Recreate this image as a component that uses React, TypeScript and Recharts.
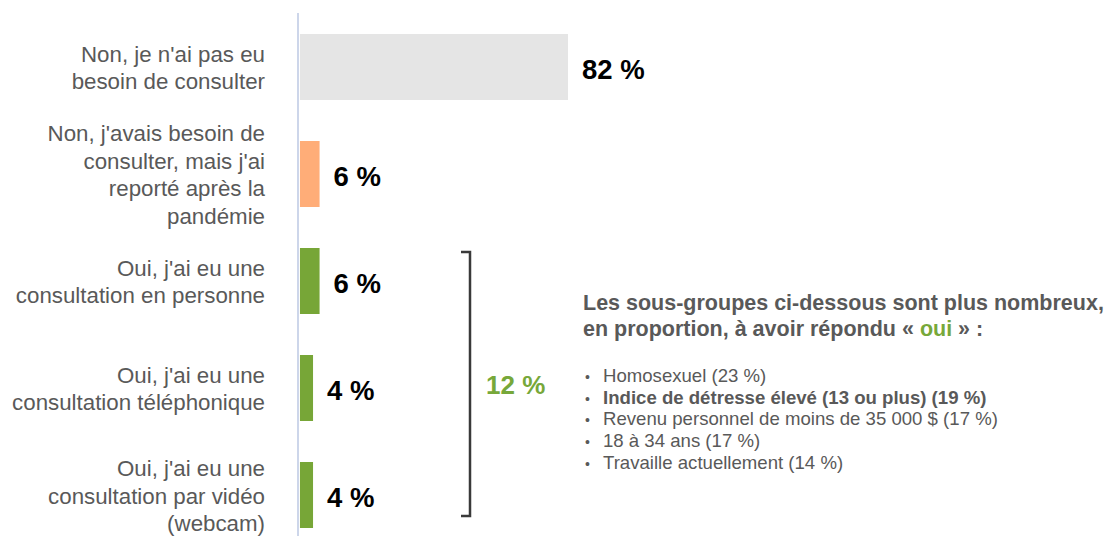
import { BarChart, Bar, XAxis, YAxis, Cell, LabelList } from 'recharts'

const CATEGORIES = [
  "Non, je n'ai pas eu\nbesoin de consulter",
  "Non, j'avais besoin de\nconsulter, mais j'ai\nreporté après la\npandémie",
  "Oui, j'ai eu une\nconsultation en personne",
  "Oui, j'ai eu une\nconsultation téléphonique",
  "Oui, j'ai eu une\nconsultation par vidéo\n(webcam)",
]
const VALUES = [82, 6, 6, 4, 4]
const GROUPS = ['non', 'reporte', 'oui', 'oui', 'oui']

const OUI_TOTAL = 12

const SUBGROUPS = [
  'Homosexuel',
  'Indice de détresse élevé (13 ou plus)',
  'Revenu personnel de moins de 35 000 $',
  '18 à 34 ans',
  'Travaille actuellement',
]
const SUBGROUP_VALUES = [23, 19, 17, 17, 14]
const SUBGROUP_BOLD = [false, true, false, false, false]

const COLORS: Record<string, string> = {
  non: '#e5e5e5',
  reporte: '#ffad78',
  oui: '#77a637',
}

const FONT = '"Liberation Sans", Arial, sans-serif'
const GRAY = '#595959'
const GREEN = '#77a83a'

const data = CATEGORIES.map((name, i) => ({ name, value: VALUES[i], group: GROUPS[i] }))

function CategoryTick(props: any) {
  const { y, payload } = props
  const lines = String(payload.value).split('\n')
  const lh = 27.5
  const first = y - ((lines.length - 1) * lh) / 2 + 9
  return (
    <text x={265} y={first} textAnchor="end" fill={GRAY} fontSize={22.3} fontFamily={FONT}>
      {lines.map((l, i) => (
        <tspan key={i} x={265} y={first + i * lh}>{l}</tspan>
      ))}
    </text>
  )
}

export default function App() {
  return (
    <div style={{ position: 'absolute', left: 0, top: 0, width: 1105, height: 536, overflow: 'hidden', background: '#fff' }}>
      <BarChart
        width={1105}
        height={548}
        data={data}
        layout="vertical"
        margin={{ top: 13, right: 0, bottom: 0, left: 0 }}
      >
        <XAxis type="number" hide domain={[-0.6, 246.3]} allowDataOverflow />
        <YAxis
          type="category"
          dataKey="name"
          width={298}
          axisLine={{ stroke: '#cdd6ea', strokeWidth: 2 }}
          tickLine={false}
          tick={<CategoryTick />}
          interval={0}
        />
        <Bar dataKey="value" barSize={66} isAnimationActive={false}>
          {data.map((d) => (
            <Cell key={d.name} fill={COLORS[d.group]} />
          ))}
          <LabelList
            dataKey="value"
            position="right"
            offset={14}
            formatter={(v: any) => `${v} %`}
            fill="#000"
            fontSize={27.5}
            fontWeight="bold"
            fontFamily={FONT}
            dy={2}
          />
        </Bar>
      </BarChart>

      <svg width={1105} height={536} style={{ position: 'absolute', left: 0, top: 0, pointerEvents: 'none' }}>
        <path d="M461 252 H470 V516 H461" fill="none" stroke="#3a3a3a" strokeWidth={2.5} />
        <text x={486} y={394} fill={GREEN} fontSize={26} fontWeight="bold" fontFamily={FONT}>
          {OUI_TOTAL} %
        </text>

        <text x={583} y={310} fill={GRAY} fontSize={21.5} fontWeight="bold" fontFamily={FONT}>
          Les sous-groupes ci-dessous sont plus nombreux,
        </text>
        <text x={583} y={336} fill={GRAY} fontSize={21.5} fontWeight="bold" fontFamily={FONT}>
          en proportion, à avoir répondu « <tspan fill={GREEN}>oui</tspan> » :
        </text>

        {SUBGROUPS.map((s, i) => (
          <g key={s}>
            <text x={585} y={382 + i * 21.7} fill={GRAY} fontSize={14} fontFamily={FONT}>•</text>
            <text
              x={603}
              y={382 + i * 21.7}
              fill={GRAY}
              fontSize={18.6}
              fontWeight={SUBGROUP_BOLD[i] ? 'bold' : 'normal'}
              fontFamily={FONT}
            >
              {s} ({SUBGROUP_VALUES[i]} %)
            </text>
          </g>
        ))}
      </svg>
    </div>
  )
}
